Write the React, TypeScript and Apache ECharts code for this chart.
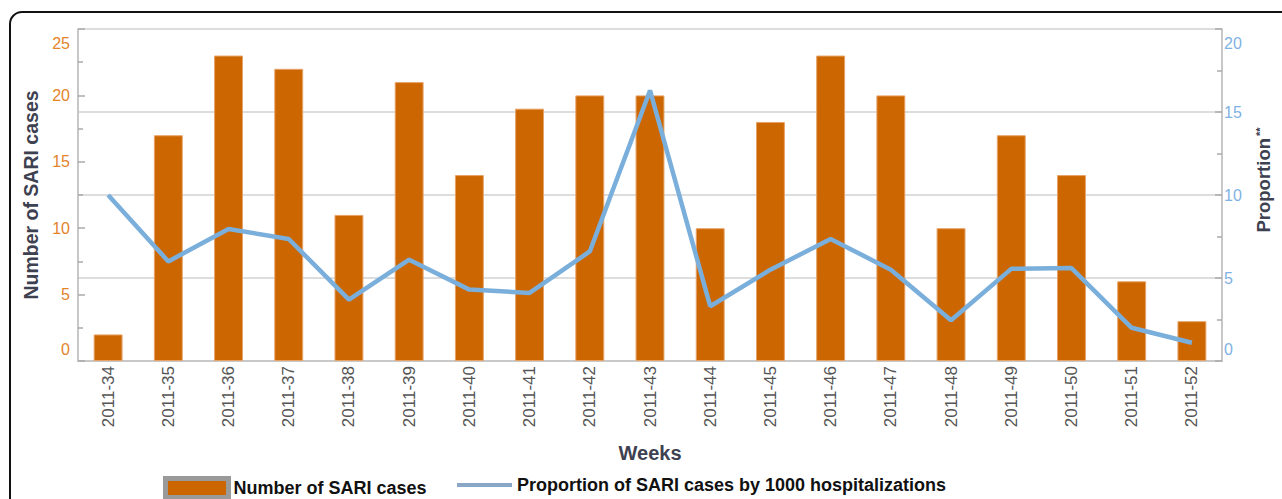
import React, { useEffect, useRef } from "react";
import * as echarts from "echarts";

const weeks = [
  "2011-34", "2011-35", "2011-36", "2011-37", "2011-38", "2011-39", "2011-40",
  "2011-41", "2011-42", "2011-43", "2011-44", "2011-45", "2011-46", "2011-47",
  "2011-48", "2011-49", "2011-50", "2011-51", "2011-52",
];
const sariCases = [2, 17, 23, 22, 11, 21, 14, 19, 20, 20, 10, 18, 23, 20, 10, 17, 14, 6, 3];
const proportion = [10.0, 6.0, 7.95, 7.35, 3.7, 6.1, 4.3, 4.1, 6.6, 16.3, 3.3, 5.5, 7.35, 5.5, 2.45, 5.55, 5.6, 2.0, 1.1];

const leftTicks = { min: 0, max: 25, interval: 5 };
const rightTicks = { min: 0, max: 20, interval: 5 };

const FONT = "'Liberation Sans', Arial, Helvetica, sans-serif";
const ORANGE_LABEL = "#e3832b";
const BLUE_LABEL = "#7fb2e3";
const NAME_COLOR = "#3d4150";

export default function App() {
  const ref = useRef<HTMLDivElement>(null);
  useEffect(() => {
    document.body.style.margin = "0";
    if (!ref.current) return;
    const chart = echarts.init(ref.current, undefined, { renderer: "svg" });
    const labelRich = (color: string) => ({
      t: { color, fontSize: 16, fontFamily: FONT, padding: [28, 0, 0, 0] },
      b: { color, fontSize: 16, fontFamily: FONT, padding: [0, 0, 24, 0] },
    });
    chart.setOption({
      animation: false,
      backgroundColor: "#ffffff",
      graphic: [
        {
          type: "rect",
          shape: { x: 10, y: 12, width: 1300, height: 520, r: 12 },
          style: { fill: "none", stroke: "#111", lineWidth: 2 },
          z: -1,
          silent: true,
        },
      ],
      grid: { left: 78, right: 60, top: 29, bottom: 138 },
      legend: [
        {
          left: 158,
          top: 471,
          itemWidth: 63,
          itemHeight: 19,
          textStyle: { fontSize: 18, fontWeight: "bold", color: "#111", fontFamily: FONT },
          data: [
            {
              name: "Number of SARI cases",
              icon: "rect",
              itemStyle: { color: "#cc6600", borderColor: "#9a9a9a", borderWidth: 5 },
            },
          ],
        },
        {
          left: 452,
          top: 471,
          itemWidth: 55,
          itemHeight: 4,
          textStyle: { fontSize: 18, fontWeight: "bold", color: "#111", fontFamily: FONT },
          data: [
            {
              name: "Proportion of SARI cases by 1000 hospitalizations",
              icon: "rect",
              itemStyle: { color: "#8aa6c6" },
            },
          ],
        },
      ],
      xAxis: [
        {
          type: "category",
          data: weeks,
          position: "bottom",
          name: "Weeks",
          nameLocation: "middle",
          nameGap: 82,
          nameTextStyle: { fontSize: 20, fontWeight: "bold", color: NAME_COLOR, fontFamily: FONT },
          axisLine: { lineStyle: { color: "#b5b5b5", width: 1.5 } },
          axisTick: { show: false },
          axisLabel: { rotate: 90, fontSize: 17, color: "#555", fontFamily: FONT, margin: 5 },
        },
        {
          type: "category",
          data: weeks,
          position: "top",
          axisLine: { lineStyle: { color: "#cccccc", width: 1.5 } },
          axisTick: { inside: true, alignWithLabel: true, length: 6, lineStyle: { color: "#aaa", width: 1.5 } },
          axisLabel: { show: false },
        },
      ],
      yAxis: [
        {
          type: "value",
          position: "left",
          min: leftTicks.min,
          max: leftTicks.max,
          interval: leftTicks.interval,
          name: "Number of SARI cases",
          nameLocation: "middle",
          nameGap: 30,
          nameRotate: 90,
          nameTextStyle: { fontSize: 19.5, fontWeight: "bold", color: NAME_COLOR, fontFamily: FONT },
          axisLine: { show: true, lineStyle: { color: "#b5b5b5", width: 1.5 } },
          axisTick: { show: true, inside: true, length: 7, lineStyle: { color: "#aaa", width: 1.5 } },
          minorTick: { show: true, splitNumber: 2, length: 5, lineStyle: { color: "#aaa", width: 1.5 } },
          splitLine: { show: false },
          axisLabel: {
            fontSize: 16,
            color: ORANGE_LABEL,
            fontFamily: FONT,
            margin: 8,
            formatter: (v: number) => (v === leftTicks.max ? `{t|${v}}` : v === 0 ? `{b|${v}}` : `${v}`),
            rich: labelRich(ORANGE_LABEL),
          },
        },
        {
          type: "value",
          position: "right",
          min: rightTicks.min,
          max: rightTicks.max,
          interval: rightTicks.interval,
          name: "Proportion{s|**}",
          nameLocation: "middle",
          nameGap: 32,
          nameRotate: 90,
          nameTextStyle: {
            fontSize: 18.5,
            fontWeight: "bold",
            color: NAME_COLOR,
            fontFamily: FONT,
            padding: [0, 0, 0, 30],
            rich: {
              s: { fontSize: 11, fontWeight: "bold", color: NAME_COLOR, fontFamily: FONT, verticalAlign: "top", padding: [0, 0, 8, 2] },
            },
          },
          axisLine: { show: true, lineStyle: { color: "#b5b5b5", width: 1.5 } },
          axisTick: { show: true, inside: true, length: 7, lineStyle: { color: "#aaa", width: 1.5 } },
          minorTick: { show: true, splitNumber: 2, length: 5, lineStyle: { color: "#aaa", width: 1.5 } },
          splitLine: { show: true, lineStyle: { color: "#d2d2d2", width: 1.5 } },
          axisLabel: {
            fontSize: 16,
            color: BLUE_LABEL,
            fontFamily: FONT,
            margin: 2,
            formatter: (v: number) => (v === rightTicks.max ? `{t|${v}}` : v === 0 ? `{b|${v}}` : `${v}`),
            rich: labelRich(BLUE_LABEL),
          },
        },
      ],
      series: [
        {
          name: "Number of SARI cases",
          type: "bar",
          xAxisIndex: 0,
          yAxisIndex: 0,
          data: sariCases,
          barWidth: "48%",
          itemStyle: { color: "#cc6600", borderColor: "#e7a266", borderWidth: 1 },
          z: 2,
        },
        {
          name: "Proportion of SARI cases by 1000 hospitalizations",
          type: "line",
          xAxisIndex: 0,
          yAxisIndex: 1,
          data: proportion,
          showSymbol: false,
          symbol: "none",
          lineStyle: { color: "#7aaedb", width: 4.5 },
          itemStyle: { color: "#7aaedb" },
          z: 3,
        },
      ],
    });
    return () => chart.dispose();
  }, []);
  return <div ref={ref} style={{ width: 1282, height: 499 }} />;
}
